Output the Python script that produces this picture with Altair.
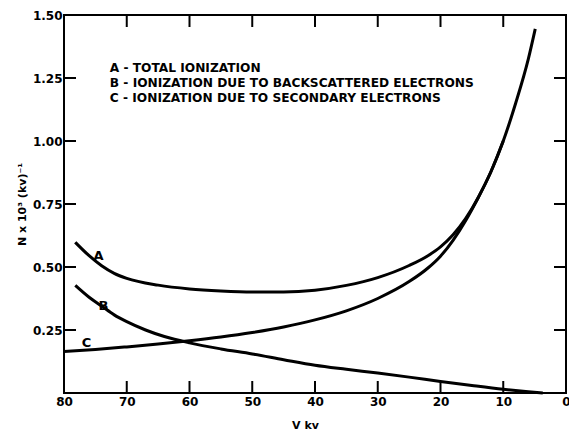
import altair as alt
import pandas as pd

# Curve A - total ionization
a_x = [78.2, 76, 74, 72, 70, 65, 60, 55, 50, 45, 40, 35, 30, 25, 22, 20, 18, 16, 14, 12, 10, 8, 6, 4.9]
a_y = [0.598, 0.545, 0.505, 0.475, 0.455, 0.428, 0.413, 0.405, 0.401, 0.401, 0.408, 0.427, 0.458, 0.506, 0.545, 0.58, 0.628, 0.692, 0.775, 0.876, 1.0, 1.152, 1.326, 1.445]
# Curve B - backscattered electrons
b_x = [78.2, 76, 74, 72, 70, 67, 64, 60, 55, 50, 45, 40, 35, 30, 25, 20, 15, 10, 6, 3.7]
b_y = [0.427, 0.38, 0.345, 0.31, 0.283, 0.25, 0.224, 0.199, 0.175, 0.155, 0.132, 0.11, 0.094, 0.079, 0.063, 0.046, 0.03, 0.015, 0.005, 0.0]
# Curve C - secondary electrons (merges into A near 15 kV)
c_x = [80, 75, 70, 65, 60, 55, 50, 45, 40, 35, 30, 25, 22, 20, 18, 16, 14, 12, 10]
c_y = [0.165, 0.173, 0.183, 0.194, 0.207, 0.222, 0.24, 0.262, 0.29, 0.326, 0.375, 0.442, 0.496, 0.543, 0.606, 0.684, 0.775, 0.876, 1.0]

curve_labels = ["A", "B", "C"]
curve_label_x = [74.5, 73.7, 76.4]
curve_label_y = [0.543, 0.347, 0.198]

legend_lines = [
    "A - TOTAL  IONIZATION",
    "B - IONIZATION  DUE  TO  BACKSCATTERED  ELECTRONS",
    "C - IONIZATION  DUE  TO  SECONDARY  ELECTRONS",
]
legend_x = [72.7, 72.7, 72.7]
legend_y = [1.288, 1.232, 1.172]

x_tick_labels = [80, 70, 60, 50, 40, 30, 20, 10, 0]
y_tick_labels = [0.25, 0.50, 0.75, 1.00, 1.25, 1.50]
x_inner_ticks = [70, 60, 50, 40, 30, 20, 10]
y_inner_ticks = [0.25, 0.50, 0.75, 1.00, 1.25]

W, H = 502, 378
FONT = "DejaVu Sans"

rows = []
for name, xs, ys in (("A", a_x, a_y), ("B", b_x, b_y), ("C", c_x, c_y)):
    for i, (xv, yv) in enumerate(zip(xs, ys)):
        rows.append({"series": name, "V": xv, "N": yv, "order": i})
curves = pd.DataFrame(rows)

xscale = alt.Scale(domain=[80, 0], nice=False)
yscale = alt.Scale(domain=[0, 1.5], nice=False)

xaxis = alt.Axis(values=x_tick_labels, ticks=False, domain=False, grid=False,
                 labelFont=FONT, labelFontSize=12, labelFontWeight="bold", labelColor="black",
                 labelPadding=3, title="V kv", titleFont=FONT, titleFontSize=11,
                 titleFontWeight="bold", titleColor="black", titlePadding=12, titleX=241,
                 labelFlush=False)
yaxis = alt.Axis(values=y_tick_labels, format=".2f", ticks=False, domain=False, grid=False,
                 labelFont=FONT, labelFontSize=12, labelFontWeight="bold", labelColor="black",
                 labelPadding=2, title="N x 10³ (kv)⁻¹", titleFont=FONT, titleFontSize=11,
                 titleFontWeight="bold", titleColor="black", titlePadding=5)

lines = alt.Chart(curves).mark_line(strokeWidth=3, color="black", interpolate="monotone").encode(
    x=alt.X("V:Q", scale=xscale, axis=xaxis),
    y=alt.Y("N:Q", scale=yscale, axis=yaxis),
    detail="series:N",
    order="order:Q",
)

lab_df = pd.DataFrame({"t": curve_labels, "V": curve_label_x, "N": curve_label_y})
labels = alt.Chart(lab_df).mark_text(font=FONT, fontSize=13, fontWeight="bold", color="black").encode(
    x=alt.X("V:Q", scale=xscale), y=alt.Y("N:Q", scale=yscale), text="t:N")

leg_df = pd.DataFrame({"t": legend_lines, "V": legend_x, "N": legend_y})
legend = alt.Chart(leg_df).mark_text(font=FONT, fontSize=12.2, fontWeight="bold", color="black",
                                     align="left", baseline="middle").encode(
    x=alt.X("V:Q", scale=xscale), y=alt.Y("N:Q", scale=yscale), text="t:N")

xt = pd.DataFrame({"V": x_inner_ticks})
yt = pd.DataFrame({"N": y_inner_ticks})
bottom_ticks = alt.Chart(xt).mark_rule(strokeWidth=2, color="black").encode(
    x=alt.X("V:Q", scale=xscale), y=alt.value(H), y2=alt.value(H - 12))
top_ticks = alt.Chart(xt).mark_rule(strokeWidth=2, color="black").encode(
    x=alt.X("V:Q", scale=xscale), y=alt.value(0), y2=alt.value(12))
left_ticks = alt.Chart(yt).mark_rule(strokeWidth=2, color="black").encode(
    y=alt.Y("N:Q", scale=yscale), x=alt.value(0), x2=alt.value(12))
right_ticks = alt.Chart(yt).mark_rule(strokeWidth=2, color="black").encode(
    y=alt.Y("N:Q", scale=yscale), x=alt.value(W), x2=alt.value(W - 12))

chart = alt.layer(lines, labels, legend, bottom_ticks, top_ticks, left_ticks, right_ticks).properties(
    width=W, height=H,
    autosize=alt.AutoSizeParams(type="none"),
    padding={"left": 64, "top": 15, "right": 3, "bottom": 37},
    background="white",
).configure_view(stroke="black", strokeWidth=2)

chart.save("out.html", embed_options={"renderer": "svg", "actions": False})
